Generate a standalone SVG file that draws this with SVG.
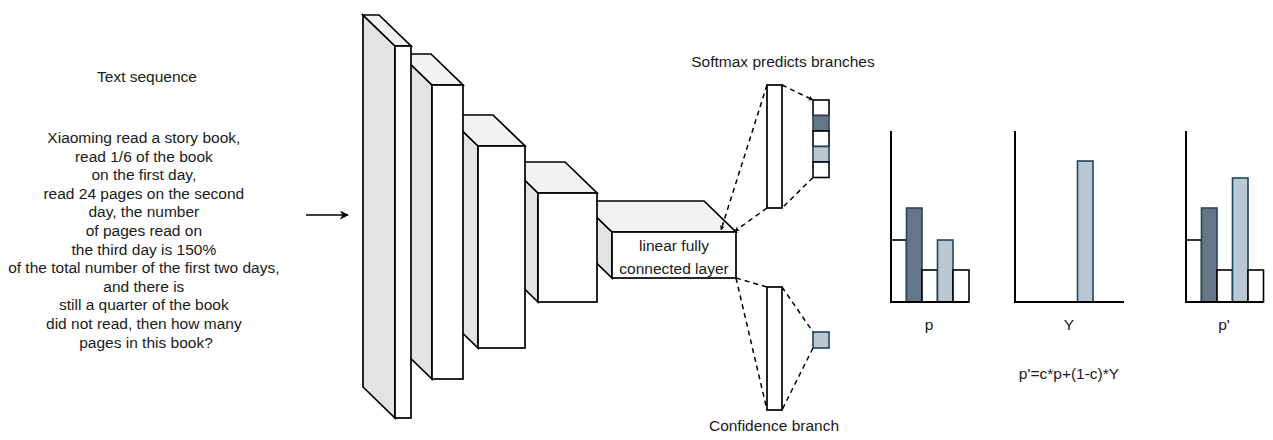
<svg xmlns="http://www.w3.org/2000/svg" width="1273" height="440" viewBox="0 0 1273 440">
  <style>
    text { font-family: "Liberation Sans", Arial, sans-serif; font-size: 15.5px; fill: #1a1a1a; }
    .mid { text-anchor: middle; }
    .front { fill: #ffffff; stroke: #000; stroke-width: 1.7; stroke-linejoin: miter; }
    .top { fill: #f2f2f2; stroke: #000; stroke-width: 1.7; stroke-linejoin: miter; }
    .side { fill: #e3e3e3; stroke: #000; stroke-width: 1.7; stroke-linejoin: miter; }
    .dash { fill: none; stroke: #000; stroke-width: 1.5; stroke-dasharray: 5 4; }
    .axis { fill: none; stroke: #000; stroke-width: 2; }
    .bw { fill: #ffffff; stroke: #000; stroke-width: 1.6; }
    .bd { fill: #647687; stroke: #314354; stroke-width: 1.6; }
    .bl { fill: #bac8d3; stroke: #23445d; stroke-width: 1.6; }
  </style>
  <defs>
    <marker id="head" viewBox="0 0 10 10" refX="9" refY="5" markerWidth="9" markerHeight="9" markerUnits="userSpaceOnUse" orient="auto">
      <path d="M0,0 L10,5 L0,10 L3,5 Z" fill="#000"/>
    </marker>
    <marker id="tip" viewBox="0 0 10 10" refX="9" refY="5" markerWidth="5" markerHeight="5" markerUnits="userSpaceOnUse" orient="auto">
      <path d="M0,0 L10,5 L0,10 L3,5 Z" fill="#000"/>
    </marker>
  </defs>

  <!-- input text -->
  <g id="text-sequence">
    <text class="mid" x="147" y="82">Text sequence</text>
    <text class="mid" x="146">
      <tspan x="146" y="143">Xiaoming read a story book,</tspan>
      <tspan x="146" y="161.6">read 1/6 of the book</tspan>
      <tspan x="146" y="180.2">on the first day,</tspan>
      <tspan x="146" y="198.8">read 24 pages on the second</tspan>
      <tspan x="146" y="217.4">day, the number</tspan>
      <tspan x="146" y="236">of pages read on</tspan>
      <tspan x="146" y="254.6">the third day is 150%</tspan>
      <tspan x="146" y="273.2">of the total number of the first two days,</tspan>
      <tspan x="146" y="291.8">and there is</tspan>
      <tspan x="146" y="310.4">still a quarter of the book</tspan>
      <tspan x="146" y="329">did not read, then how many</tspan>
      <tspan x="146" y="347.6">pages in this book?</tspan>
    </text>
  </g>

  <!-- network layers, drawn back to front -->
  <g id="layer-fc">
    <polygon class="side" points="580,201 612,232 612,278 580,247"/>
    <polygon class="top" points="580,201 704,201 736,232 612,232"/>
    <rect class="front" x="612" y="232" width="124" height="46"/>
    <text class="mid" x="674" y="251">linear fully</text>
    <text class="mid" x="674" y="274">connected layer</text>
  </g>
  <g id="layer-4">
    <polygon class="side" points="506,162 538,193 538,302 506,271"/>
    <polygon class="top" points="506,162 565,162 597,193 538,193"/>
    <rect class="front" x="538" y="193" width="59" height="109"/>
  </g>
  <g id="layer-3">
    <polygon class="side" points="446,115 478,146 478,348 446,317"/>
    <polygon class="top" points="446,115 493,115 525,146 478,146"/>
    <rect class="front" x="478" y="146" width="47" height="202"/>
  </g>
  <g id="layer-2">
    <polygon class="side" points="400,54 432,85 432,379 400,348"/>
    <polygon class="top" points="400,54 431,54 463,85 432,85"/>
    <rect class="front" x="432" y="85" width="31" height="294"/>
  </g>
  <g id="layer-1">
    <polygon class="side" points="363,15 395,46 395,418 363,387"/>
    <polygon class="top" points="363,15 379,15 411,46 395,46"/>
    <rect class="front" x="395" y="46" width="16" height="372"/>
  </g>

  <!-- softmax branch -->
  <g id="softmax-branch">
    <text class="mid" x="783" y="67">Softmax predicts branches</text>
    <rect class="front" x="767" y="85" width="15" height="123"/>
    <rect class="bw" x="813" y="100" width="16" height="15.5"/>
    <rect class="bd" x="813" y="115.5" width="16" height="15.5"/>
    <rect class="bw" x="813" y="131" width="16" height="15.5"/>
    <rect class="bl" x="813" y="146.5" width="16" height="15.5"/>
    <rect class="bw" x="813" y="162" width="16" height="15.5"/>
  </g>

  <!-- confidence branch -->
  <g id="confidence-branch">
    <rect class="front" x="767" y="287" width="15" height="123"/>
    <rect class="bl" x="813" y="332" width="16" height="16"/>
    <text class="mid" x="774" y="431">Confidence branch</text>
  </g>

  <!-- connectors -->
  <g id="connectors">
    <line x1="306" y1="215" x2="348" y2="215" stroke="#000" stroke-width="1.5" marker-end="url(#head)"/>
    <line class="dash" x1="767" y1="85" x2="721" y2="230" marker-end="url(#tip)"/>
    <line class="dash" x1="767" y1="208" x2="735" y2="231" marker-end="url(#tip)"/>
    <line class="dash" x1="782" y1="85" x2="813" y2="100" marker-end="url(#tip)"/>
    <line class="dash" x1="813" y1="177.5" x2="782" y2="208"/>
    <line class="dash" x1="736" y1="278" x2="767" y2="287"/>
    <line class="dash" x1="736" y1="278" x2="767" y2="410"/>
    <line class="dash" x1="782" y1="287" x2="813" y2="332"/>
    <line class="dash" x1="813" y1="348" x2="782" y2="410"/>
  </g>

  <!-- distribution p -->
  <g id="chart-p">
    <rect class="bw" x="891" y="240" width="15.5" height="62"/>
    <rect class="bd" x="906.5" y="208" width="15.5" height="94"/>
    <rect class="bw" x="922" y="270" width="15.5" height="32"/>
    <rect class="bl" x="937.5" y="240" width="15.5" height="62"/>
    <rect class="bw" x="953" y="270" width="16" height="32"/>
    <polyline class="axis" points="891,131 891,302 969,302"/>
    <text class="mid" x="929" y="330">p</text>
  </g>

  <!-- distribution Y -->
  <g id="chart-y">
    <rect class="bl" x="1077.5" y="161" width="15.5" height="141"/>
    <polyline class="axis" points="1015,131 1015,302 1124,302"/>
    <text class="mid" x="1069" y="330">Y</text>
  </g>

  <!-- distribution p' -->
  <g id="chart-p-prime">
    <rect class="bw" x="1186" y="240" width="15.5" height="62"/>
    <rect class="bd" x="1201.5" y="208" width="15.5" height="94"/>
    <rect class="bw" x="1217" y="270" width="15.5" height="32"/>
    <rect class="bl" x="1232.5" y="178" width="15.5" height="124"/>
    <rect class="bw" x="1248" y="270" width="15.5" height="32"/>
    <polyline class="axis" points="1186,131 1186,302 1263.5,302"/>
    <text class="mid" x="1224" y="330">p'</text>
  </g>

  <g id="formula">
    <text class="mid" x="1069" y="379">p'=c*p+(1-c)*Y</text>
  </g>
</svg>
